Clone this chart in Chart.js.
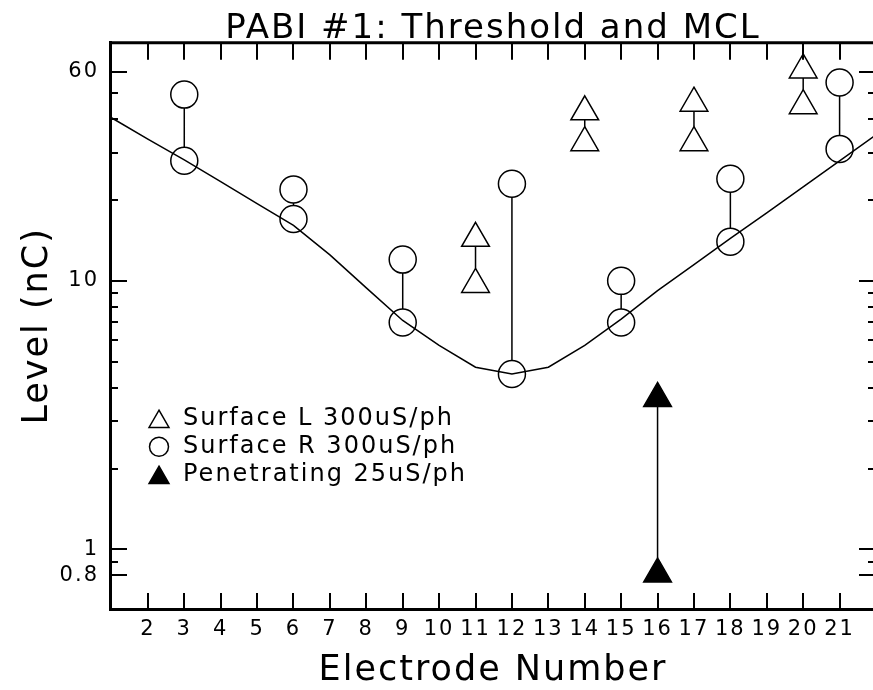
<!DOCTYPE html>
<html>
<head>
<meta charset="utf-8">
<title>PABI #1: Threshold and MCL</title>
<script src="https://cdn.jsdelivr.net/npm/chart.js@4.4.0/dist/chart.umd.min.js"></script>
<style>
    html, body { margin: 0; padding: 0; background: #fff; overflow: hidden; }
    canvas { display: block; }
</style>
</head>
<body>
<canvas id="levelChart" width="880" height="690"></canvas>
<script>
// fitted curve, one value per electrode
var curveX = [1, 2, 3, 4, 5, 6, 7, 8, 9, 10, 11, 12, 13, 14, 15, 16, 17, 18, 19, 20, 21, 22];
var curveY = [40.5, 33.7, 28.2, 23.4, 19.4, 16.1, 12.5, 9.42, 7.12, 5.75, 4.77, 4.5,
              4.77, 5.75, 7.2, 9.2, 11.5, 14.4, 17.9, 22.4, 28.0, 35.0];

// Surface L 300uS/ph (triangles): threshold and MCL
var leftX = [11, 14, 17, 20];
var leftLow = [9.7, 32.7, 32.7, 44.9];
var leftHigh = [14.4, 42.6, 45.9, 61];

// Surface R 300uS/ph (circles)
var rightX = [3, 6, 9, 12, 15, 18, 21];
var rightLow = [28, 17, 7, 4.5, 7, 14, 31];
var rightHigh = [49.4, 21.9, 12, 23, 10, 24, 54.8];

// Penetrating 25uS/ph (filled triangles)
var penX = [16];
var penLow = [0.81];
var penHigh = [3.65];

var xTicks = [2, 3, 4, 5, 6, 7, 8, 9, 10, 11, 12, 13, 14, 15, 16, 17, 18, 19, 20, 21];
var yTicks = [0.8, 1, 10, 60];
var yMinor = [0.9, 2, 3, 4, 5, 6, 7, 8, 9, 20, 30, 40, 50];
var legendLabels = ['Surface L 300uS/ph', 'Surface R 300uS/ph', 'Penetrating 25uS/ph'];

var FONT = "'DejaVu Sans', sans-serif";
var TRI_R = 16;
var CIRC_R = 13.5;

function pairPoints(xs, lo, hi) {
    var pts = [];
    xs.forEach(function (x, i) {
        pts.push({ x: x, y: lo[i] });
        pts.push({ x: x, y: hi[i] });
    });
    return pts;
}

function drawMarker(ctx, style, r, x, y, filled) {
    ctx.beginPath();
    if (style === 'circle') {
        ctx.arc(x, y, r, 0, Math.PI * 2);
    } else {
        ctx.moveTo(x, y - r);
        ctx.lineTo(x + Math.sin(2 * Math.PI / 3) * r, y + r / 2);
        ctx.lineTo(x - Math.sin(2 * Math.PI / 3) * r, y + r / 2);
        ctx.closePath();
    }
    if (filled) ctx.fill();
    ctx.stroke();
}

// wider letter spacing, closer to the plotter font of the original
var spacing = {
    id: 'spacing',
    beforeDraw: function (chart) {
        chart.ctx.letterSpacing = '2px';
    }
};

// vertical lines between the two marks of each electrode, edge to edge
var connectors = {
    id: 'connectors',
    afterDatasetsDraw: function (chart) {
        var ctx = chart.ctx, ys = chart.scales.y, xs = chart.scales.x;
        var groups = [
            { x: leftX, lo: leftLow, hi: leftHigh, top: TRI_R, bot: TRI_R / 2 },
            { x: rightX, lo: rightLow, hi: rightHigh, top: CIRC_R, bot: CIRC_R },
            { x: penX, lo: penLow, hi: penHigh, top: TRI_R, bot: TRI_R / 2 }
        ];
        ctx.save();
        ctx.strokeStyle = '#000';
        ctx.lineWidth = 1.5;
        ctx.beginPath();
        groups.forEach(function (g) {
            g.x.forEach(function (x, i) {
                var px = xs.getPixelForValue(x);
                var y0 = ys.getPixelForValue(g.lo[i]) - g.top;
                var y1 = ys.getPixelForValue(g.hi[i]) + g.bot;
                if (y0 > y1) {
                    ctx.moveTo(px, y0);
                    ctx.lineTo(px, y1);
                }
            });
        });
        ctx.stroke();
        ctx.restore();
    }
};

// top border and inward tick marks on all four sides
var axisFrame = {
    id: 'axisFrame',
    afterDatasetsDraw: function (chart) {
        var ctx = chart.ctx, a = chart.chartArea, xs = chart.scales.x, ys = chart.scales.y;
        ctx.save();
        ctx.strokeStyle = '#000';
        ctx.lineWidth = 3;
        ctx.beginPath();
        ctx.moveTo(a.left, a.top);
        ctx.lineTo(a.right, a.top);
        ctx.lineTo(a.right, a.bottom);
        ctx.stroke();

        ctx.lineWidth = 2;
        ctx.beginPath();
        xTicks.forEach(function (v) {
            var px = Math.round(xs.getPixelForValue(v));
            ctx.moveTo(px, a.bottom);
            ctx.lineTo(px, a.bottom - 16);
            ctx.moveTo(px, a.top);
            ctx.lineTo(px, a.top + 17);
        });
        yTicks.forEach(function (v) {
            var py = Math.round(ys.getPixelForValue(v));
            ctx.moveTo(a.left, py);
            ctx.lineTo(a.left + 17, py);
            ctx.moveTo(a.right, py);
            ctx.lineTo(a.right - 17, py);
        });
        yMinor.forEach(function (v) {
            var py = Math.round(ys.getPixelForValue(v));
            ctx.moveTo(a.left, py);
            ctx.lineTo(a.left + 8, py);
            ctx.moveTo(a.right, py);
            ctx.lineTo(a.right - 8, py);
        });
        ctx.stroke();
        ctx.restore();
    }
};

// legend inside the plot, lower left
var plotLegend = {
    id: 'plotLegend',
    afterDatasetsDraw: function (chart) {
        var ctx = chart.ctx, a = chart.chartArea;
        var marks = [
            { style: 'triangle', r: 11.5, filled: false },
            { style: 'circle', r: 9.5, filled: false },
            { style: 'triangle', r: 11.5, filled: true }
        ];
        ctx.save();
        ctx.strokeStyle = '#000';
        ctx.fillStyle = '#000';
        ctx.lineWidth = 1.5;
        ctx.font = '24px ' + FONT;
        ctx.textBaseline = 'middle';
        ctx.textAlign = 'left';
        legendLabels.forEach(function (label, i) {
            var y = a.top + 376 + i * 28;
            var m = marks[i];
            drawMarker(ctx, m.style, m.r, a.left + 49, m.style === 'triangle' ? y + m.r / 4 : y, m.filled);
            ctx.fillText(label, a.left + 73, y);
        });
        ctx.restore();
    }
};

Chart.defaults.font.family = FONT;
Chart.defaults.color = '#000';

var ctx = document.getElementById('levelChart').getContext('2d');
new Chart(ctx, {
    type: 'scatter',
    data: {
        datasets: [{
            type: 'line',
            data: curveX.map(function (x, i) { return { x: x, y: curveY[i] }; }),
            borderColor: '#000',
            borderWidth: 1.5,
            pointRadius: 0,
            tension: 0,
            fill: false
        }, {
            data: pairPoints(leftX, leftLow, leftHigh),
            pointStyle: 'triangle',
            pointRadius: TRI_R,
            borderColor: '#000',
            backgroundColor: 'rgba(0,0,0,0)',
            borderWidth: 1.5
        }, {
            data: pairPoints(rightX, rightLow, rightHigh),
            pointStyle: 'circle',
            pointRadius: CIRC_R,
            borderColor: '#000',
            backgroundColor: 'rgba(0,0,0,0)',
            borderWidth: 1.5
        }, {
            data: pairPoints(penX, penLow, penHigh),
            pointStyle: 'triangle',
            pointRadius: TRI_R,
            borderColor: '#000',
            backgroundColor: '#000',
            borderWidth: 1.5
        }]
    },
    options: {
        responsive: false,
        animation: false,
        layout: { autoPadding: false, padding: { right: 4 } },
        plugins: {
            legend: { display: false },
            tooltip: { enabled: false },
            title: {
                display: true,
                fullSize: false,
                text: 'PABI #1: Threshold and MCL',
                color: '#000',
                font: { size: 34, weight: 'normal' },
                padding: { top: 9, bottom: -7 }
            }
        },
        scales: {
            x: {
                type: 'linear',
                min: 0.96, max: 22,
                afterBuildTicks: function (s) { s.ticks = xTicks.map(function (v) { return { value: v }; }); },
                afterFit: function (s) { s.height = 81; s.paddingLeft = 0; s.paddingRight = 0; },
                ticks: {
                    autoSkip: false, maxRotation: 0, padding: 8,
                    font: { size: 21 },
                    callback: function (v) { return String(v); }
                },
                grid: { display: false, drawTicks: false },
                border: { display: true, color: '#000', width: 3 },
                title: {
                    display: true, text: 'Electrode Number',
                    font: { size: 35 }, padding: { top: 0, bottom: -2 }
                }
            },
            y: {
                type: 'logarithmic',
                min: 0.632, max: 77,
                afterBuildTicks: function (s) { s.ticks = yTicks.map(function (v) { return { value: v }; }); },
                afterFit: function (s) { s.width = 110; },
                ticks: {
                    autoSkip: false, padding: 11,
                    font: { size: 21 },
                    callback: function (v) { return String(v); }
                },
                grid: { display: false, drawTicks: false },
                border: { display: true, color: '#000', width: 3 },
                title: {
                    display: true, text: 'Level (nC)',
                    font: { size: 35 }, padding: { top: 17, bottom: 0 }
                }
            }
        }
    },
    plugins: [spacing, connectors, axisFrame, plotLegend]
});
</script>
</body>
</html>
